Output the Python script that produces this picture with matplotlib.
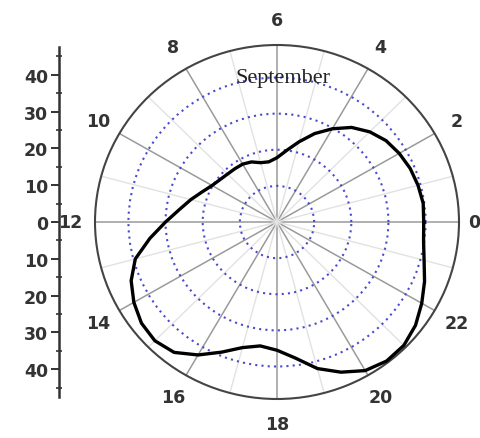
import numpy as np
import matplotlib.pyplot as plt

# readings of the curve, every half hour (hour -> radius)
hours = [0, 0.5, 1, 1.5, 2, 2.5, 3, 3.5, 4, 4.5, 5, 5.5,
         6, 6.5, 7, 7.5, 8, 8.5, 9, 9.5, 10, 10.5, 11, 11.5,
         12, 12.5, 13, 13.5, 14, 14.5, 15, 15.5, 16, 16.5, 17, 17.5,
         18, 18.5, 19, 19.5, 20, 20.5, 21, 21.5, 22, 22.5, 23, 23.5]
radius = [39.5, 39.7, 39.3, 38.8, 38.0, 37.0, 35.3, 33.0, 29.8, 26.5, 23.0, 20.0,
          17.8, 16.8, 17.0, 18.0, 18.5, 18.6, 18.8, 19.3, 20.2, 21.8, 24.0, 26.5,
          30.0, 34.5, 39.5, 42.5, 44.5, 46.0, 46.5, 45.5, 42.5, 39.0, 36.0, 34.6,
          35.5, 38.0, 42.0, 45.0, 47.5, 48.5, 48.3, 47.0, 45.0, 43.0, 41.0, 39.8]

hour_ticks = [0, 2, 4, 6, 8, 10, 12, 14, 16, 18, 20, 22]
hour_labels = ['0', '2', '4', '6', '8', '10', '12', '14', '16', '18', '20', '22']
minor_hours = [1, 3, 5, 7, 9, 11, 13, 15, 17, 19, 21, 23]
rings = [10, 20, 30, 40]
left_ticks = [40, 30, 20, 10, 0, -10, -20, -30, -40]
left_labels = ['40', '30', '20', '10', '0', '10', '20', '30', '40']
left_minor = [45, 35, 25, 15, 5, -5, -15, -25, -35, -45]
title = 'September'

RMAX = 49
W, H = 480, 439

def to_theta(h):
    return np.array(h) / 24.0 * 2 * np.pi

fig = plt.figure(figsize=(W / 100, H / 100), dpi=100)
fig.patch.set_facecolor('white')

# polar plot (slightly wider than tall, like the source)
ax = fig.add_axes([(277 - 182) / W, (216 - 177) / H, 364 / W, 354 / H], projection='polar')
ax.set_aspect('auto')
ax.set_theta_zero_location('E')
ax.set_theta_direction(1)
ax.set_ylim(0, RMAX)

th = to_theta(hours + [hours[0]])
rr = radius + [radius[0]]
ax.plot(th, rr, color='black', linewidth=2.4, zorder=5)

# the "0" label sits against the right edge, so it is drawn by hand below
ax.set_xticks(to_theta(hour_ticks), [''] + hour_labels[1:])
ax.set_xticks(to_theta(minor_hours), minor=True)
ax.set_yticks(rings, [''] * len(rings))
ax.xaxis.grid(True, which='major', color='#9a9a9a', linewidth=1.1, linestyle='-')
ax.xaxis.grid(True, which='minor', color='#e2e2e2', linewidth=1.0, linestyle='-')
ax.yaxis.grid(True, color='#4a4ad0', linewidth=1.5, linestyle=(0, (1, 2.0)))
ax.tick_params(axis='x', which='major', pad=8, labelsize=12.5, colors='#333333',
               direction='out', length=3)
ax.tick_params(axis='x', which='minor', length=0)
for lab in ax.get_xticklabels():
    lab.set_fontweight('bold')
ax.spines['polar'].set_color('#444444')
ax.spines['polar'].set_linewidth(1.5)

ax.text(to_theta(hour_ticks[0]), 53.2, hour_labels[0], fontsize=12.5, fontweight='bold',
        color='#333333', ha='center', va='center', clip_on=False)

ax.text(to_theta(5.85), 40.0, title, family='Liberation Serif', fontsize=16,
        ha='center', va='center', color='#222222')

# separate left scale
lax = fig.add_axes([59 / W, 32 / H, 0.0005, 368 / H])
lax.set_ylim(-50, 50)
lax.patch.set_visible(False)
for s in ['top', 'right', 'bottom']:
    lax.spines[s].set_visible(False)
lax.spines['left'].set_bounds(-47.5, 47.5)
lax.spines['left'].set_color('#333333')
lax.spines['left'].set_linewidth(1.8)
lax.set_xticks([])
lax.set_yticks(left_ticks, left_labels)
lax.set_yticks(left_minor, minor=True)
lax.tick_params(axis='y', which='major', direction='out', length=6, width=1.4,
                color='#333333', pad=2, labelsize=12.5, labelcolor='#333333')
lax.tick_params(axis='y', which='minor', direction='inout', length=5, width=1.2,
                color='#333333')
for lab in lax.get_yticklabels():
    lab.set_fontweight('bold')

fig.savefig('out.png', dpi=100)
